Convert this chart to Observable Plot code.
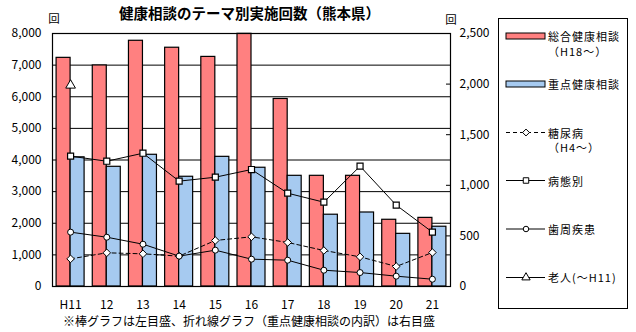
<!DOCTYPE html>
<html>
<head>
<meta charset="utf-8">
<script src="https://cdn.jsdelivr.net/npm/d3@7"></script>
<script src="https://cdn.jsdelivr.net/npm/@observablehq/plot@0.6"></script>
<style>
  body { margin: 0; background: #fff; }
  #wrap { position: relative; width: 636px; height: 332px; font-family: "Noto Sans CJK JP", sans-serif; }
  #wrap svg { position: absolute; left: 0; top: 0; }
</style>
</head>
<body>
<div id="wrap"></div>
<script>
// ---- data ----
const categories = ["H11", "12", "13", "14", "15", "16", "17", "18", "19", "20", "21"];
const sogoKenko = [7230, 6990, 7770, 7550, 7260, 7990, 5930, 3500, 3500, 2110, 2170];   // 総合健康相談 (left axis)
const jutenKenko = [4085, 3785, 4165, 3470, 4100, 3755, 3500, 2270, 2340, 1665, 1890];  // 重点健康相談 (left axis)
const tonyobyo = [273, 333, 323, 300, 455, 491, 435, 356, 293, 198, 336];               // 糖尿病 (right axis)
const byotaibetsu = [1288, 1238, 1317, 1041, 1080, 1156, 922, 833, 1189, 804, 537];     // 病態別 (right axis)
const shishuShikkan = [537, 487, 418, 300, 359, 270, 260, 161, 138, 102, 72];           // 歯周疾患 (right axis)
const rojin = [1988, null, null, null, null, null, null, null, null, null, null];       // 老人 (～H11)
const leftTicks = [0, 1000, 2000, 3000, 4000, 5000, 6000, 7000, 8000];
const rightTicks = [0, 500, 1000, 1500, 2000, 2500];

const LEFT_MAX = 8000, RIGHT_MAX = 2500;
const K = LEFT_MAX / RIGHT_MAX;
const RED = "#FF8080", BLUE = "#A6CAF0";
const FONT = "'Noto Sans CJK JP', sans-serif";

const W = 636, H = 332;
const mL = 52, mR = 186, mT = 33, mB = 46;
const bw = (W - mL - mR) / categories.length;
const barW = 14;

const rows = (arr) => categories.map((c, i) => ({c, v: arr[i]})).filter(d => d.v != null);
const fmt = d3.format(",");

const chart = Plot.plot({
  width: W, height: H,
  marginLeft: mL, marginRight: mR, marginTop: mT, marginBottom: mB,
  x: {domain: categories, padding: 0, round: false, label: null},
  y: {domain: [0, LEFT_MAX], label: null},
  style: {fontFamily: FONT, fontSize: "12px", color: "black", background: "transparent"},
  marks: [
    Plot.gridY(leftTicks, {stroke: "black", strokeOpacity: 1, strokeWidth: 1}),
    Plot.barY(rows(sogoKenko), {x: "c", y: "v", fill: RED, stroke: "black", strokeWidth: 1.2,
      insetLeft: bw / 2 - barW, insetRight: bw / 2}),
    Plot.barY(rows(jutenKenko), {x: "c", y: "v", fill: BLUE, stroke: "black", strokeWidth: 1.2,
      insetLeft: bw / 2, insetRight: bw / 2 - barW}),
    Plot.frame({stroke: "black", strokeWidth: 1.2}),
    Plot.tickY(rightTicks, {y: d => d * K, stroke: "black", insetLeft: (W - mL - mR) - 4}),
    Plot.axisY(leftTicks, {anchor: "left", tickSize: 0, tickPadding: 11, tickFormat: fmt, label: null, fontSize: 12}),
    Plot.axisY(rightTicks.map(d => d * K), {anchor: "right", tickSize: 0, tickPadding: 9,
      tickFormat: d => fmt(Math.round(d / K)), label: null, fontSize: 12}),
    Plot.axisX({tickSize: 0, tickPadding: 14, label: null, fontSize: 12}),
    // 糖尿病
    Plot.line(rows(tonyobyo), {x: "c", y: d => d.v * K, stroke: "black", strokeWidth: 1, strokeDasharray: "4,3"}),
    Plot.dot(rows(tonyobyo), {x: "c", y: d => d.v * K, symbol: "diamond2", r: 3.4, fill: "white", stroke: "black", strokeWidth: 1}),
    // 病態別
    Plot.line(rows(byotaibetsu), {x: "c", y: d => d.v * K, stroke: "black", strokeWidth: 1}),
    Plot.dot(rows(byotaibetsu), {x: "c", y: d => d.v * K, symbol: "square", r: 3.4, fill: "white", stroke: "black", strokeWidth: 1.2}),
    // 歯周疾患
    Plot.line(rows(shishuShikkan), {x: "c", y: d => d.v * K, stroke: "black", strokeWidth: 1}),
    Plot.dot(rows(shishuShikkan), {x: "c", y: d => d.v * K, symbol: "circle", r: 3, fill: "white", stroke: "black", strokeWidth: 1}),
    // 老人
    Plot.dot(rows(rojin), {x: "c", y: d => d.v * K, symbol: "triangle", r: 3.6, fill: "white", stroke: "black", strokeWidth: 1})
  ]
});
document.getElementById("wrap").appendChild(chart);

// ---- overlay: title, unit labels, legend, footnote ----
const svg = d3.select("#wrap").append("svg")
  .attr("width", W).attr("height", H)
  .style("pointer-events", "none")
  .style("font-family", FONT);

function txt(x, y, s, size, opts = {}) {
  return svg.append("text").attr("x", x).attr("y", y)
    .attr("dominant-baseline", "central")
    .attr("text-anchor", opts.anchor || "start")
    .attr("font-size", size)
    .attr("font-weight", opts.weight || 400)
    .attr("letter-spacing", opts.ls || 0)
    .attr("fill", "black")
    .text(s);
}

txt(119, 12.5, "健康相談のテーマ別実施回数（熊本県）", 14.5, {weight: 700});
txt(54, 18, "回", 11.5, {anchor: "middle"});
txt(451, 18.5, "回", 11.5, {anchor: "middle"});
txt(63, 320, "※棒グラフは左目盛、折れ線グラフ（重点健康相談の内訳）は右目盛", 12);

// legend box
svg.append("rect").attr("x", 498.5).attr("y", 18.5).attr("width", 129).attr("height", 290)
  .attr("fill", "none").attr("stroke", "black").attr("stroke-width", 1);

const lx0 = 506, lx1 = 545, lmx = 526, tx = 548, lfs = 11, lls = 1;
// bars
svg.append("rect").attr("x", lx0).attr("y", 33).attr("width", lx1 - lx0).attr("height", 6)
  .attr("fill", RED).attr("stroke", "black").attr("stroke-width", 1);
txt(tx, 35.5, "総合健康相談", lfs, {ls: lls});
txt(tx, 50.5, "（H18～）", lfs, {ls: lls});
svg.append("rect").attr("x", lx0).attr("y", 81).attr("width", lx1 - lx0).attr("height", 6)
  .attr("fill", BLUE).attr("stroke", "black").attr("stroke-width", 1);
txt(tx, 84, "重点健康相談", lfs, {ls: lls});

function legLine(y, dash, symbol, size) {
  svg.append("line").attr("x1", lx0).attr("x2", lx1).attr("y1", y).attr("y2", y)
    .attr("stroke", "black").attr("stroke-width", 1).attr("stroke-dasharray", dash || null);
  svg.append("path").attr("transform", `translate(${lmx},${y})`)
    .attr("d", d3.symbol(symbol, size)())
    .attr("fill", "white").attr("stroke", "black").attr("stroke-width", 1);
}
legLine(132.5, "4,3", d3.symbolDiamond2, 30);
txt(tx, 132.5, "糖尿病", lfs, {ls: lls});
txt(tx, 147, "（H4～）", lfs, {ls: lls});
legLine(180.5, null, d3.symbolSquare, 30);
txt(tx, 181, "病態別", lfs, {ls: lls});
legLine(229, null, d3.symbolCircle, 24);
txt(tx, 229, "歯周疾患", lfs, {ls: lls});
legLine(277.5, null, d3.symbolTriangle, 30);
txt(tx, 277, "老人(～H11)", lfs, {ls: lls});
</script>
</body>
</html>
